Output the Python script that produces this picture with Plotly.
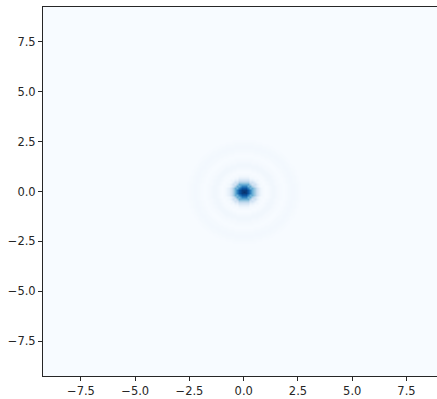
import numpy as np
import plotly.graph_objects as go

# Radial intensity profile of the diffraction spot (normalised), sampled every 0.1 units
radius_step = 0.1
radial_intensity = [
    1.00, 0.96, 0.85, 0.69, 0.50, 0.33, 0.19, 0.09, 0.035, 0.010,
    0.000, 0.008, 0.022, 0.032, 0.030, 0.022, 0.012, 0.005, 0.001, 0.004,
    0.010, 0.016, 0.020, 0.020, 0.016, 0.010, 0.004, 0.001, 0.000, 0.000,
]

extent = 9.25
cell = 0.1
tick_vals = [-7.5, -5.0, -2.5, 0.0, 2.5, 5.0, 7.5]
tick_text = ["\u22127.5", "\u22125.0", "\u22122.5", "0.0", "2.5", "5.0", "7.5"]

blues = [
    [0.000, "#f7fbff"], [0.125, "#deebf7"], [0.250, "#c6dbef"],
    [0.375, "#9ecae1"], [0.500, "#6baed6"], [0.625, "#4292c6"],
    [0.750, "#2171b5"], [0.875, "#08519c"], [1.000, "#08306b"],
]

# Build the image grid by looking up each cell's radius in the profile
coords = np.arange(-extent + cell / 2, extent, cell)
xx, yy = np.meshgrid(coords, coords)
idx = np.rint(np.hypot(xx, yy) / radius_step).astype(int)
profile = np.array(radial_intensity)
z = np.where(idx < len(profile), profile[np.minimum(idx, len(profile) - 1)], 0.0)

fig = go.Figure(go.Heatmap(
    x=coords, y=coords, z=z,
    colorscale=blues, zmin=0, zmax=1,
    showscale=False, zsmooth="best", hoverinfo="skip",
))

axis_font = dict(family="DejaVu Sans", size=11.5, color="#262626")
fig.update_xaxes(
    range=[-extent, -extent + 394 / 21.7],
    tickvals=tick_vals, ticktext=tick_text,
    showline=True, linecolor="#262626", linewidth=1, mirror=True,
    ticks="outside", ticklen=4, tickcolor="#262626",
    showgrid=False, zeroline=False, tickfont=axis_font,
)
fig.update_yaxes(
    range=[-extent, extent],
    tickvals=tick_vals, ticktext=tick_text,
    showline=True, linecolor="#262626", linewidth=1,
    ticks="outside", ticklen=4, tickcolor="#262626",
    showgrid=False, zeroline=False, tickfont=axis_font,
)
fig.update_layout(
    width=437, height=399,
    margin=dict(l=43, r=0, t=7, b=23),
    paper_bgcolor="white", plot_bgcolor="#f7fbff",
)

fig.write_html("out.html")
